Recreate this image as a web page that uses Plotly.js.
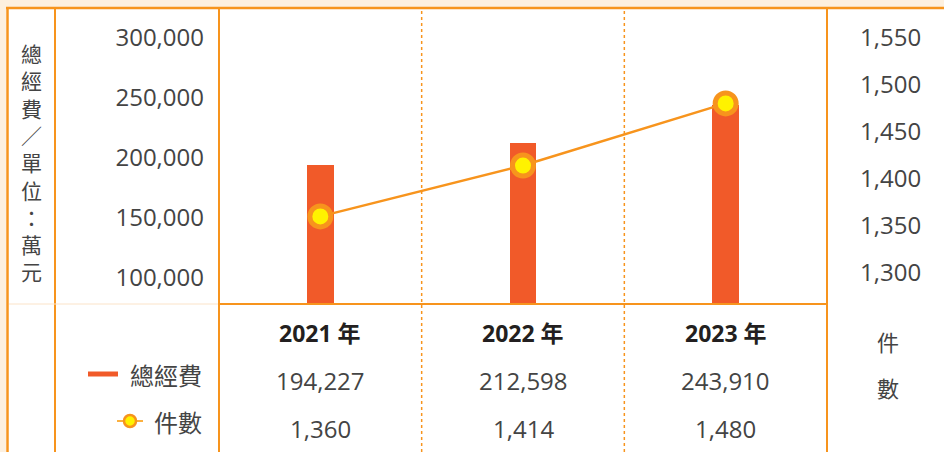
<!DOCTYPE html>
<html>
<head>
<meta charset="utf-8">
<script src="https://cdn.plot.ly/plotly-3.0.1.min.js"></script>
<style>
html,body{margin:0;padding:0;background:#fff;}
#chart{width:944px;height:452px;}
</style>
</head>
<body>
<div id="chart"></div>
<script>
// ---- data ----
const years = ['2021 年', '2022 年', '2023 年'];
const funding = [194227, 212598, 243910];   // 總經費 (萬元)
const cases = [1360, 1414, 1480];           // 件數
const seriesNames = ['總經費', '件數'];
const leftTitle = ['總', '經', '費', '／', '單', '位', '：', '萬', '元'];
const rightTitle = ['件', '數'];

// ---- layout helpers (pixel -> paper) ----
const W = 944, H = 452;
const L = 219, R = 827, T = 8, B = 304;
const PW = R - L, PH = B - T;
const px = v => (v - L) / PW;
const py = v => (B - v) / PH;

const ORANGE = '#f7941d';
const RED = '#f15a29';
const TXT = '#444444';
const FONT = '"Open Sans", "Noto Sans CJK TC", sans-serif';
const CJK = '"Noto Sans CJK TC", "Open Sans", sans-serif';

const xs = years.map((_, i) => i);
const fmt = n => n.toLocaleString('en-US');

const traces = [
  {
    type: 'bar', x: xs, y: funding, name: seriesNames[0],
    marker: {color: RED}, width: 0.13, yaxis: 'y', hoverinfo: 'y'
  },
  {
    type: 'scatter', mode: 'lines+markers', x: xs, y: cases, name: seriesNames[1],
    yaxis: 'y2',
    line: {color: ORANGE, width: 2.5},
    marker: {size: 21, color: '#fff200', line: {color: ORANGE, width: 5}},
    cliponaxis: false
  }
];

const shapes = [];
const line = (x0, y0, x1, y1, color, width, dash) => shapes.push({
  type: 'line', xref: 'paper', yref: 'paper',
  x0: px(x0), y0: py(y0), x1: px(x1), y1: py(y1),
  line: {color: color, width: width, dash: dash || 'solid'}, layer: 'above'
});
// cream bands
shapes.push({type: 'rect', xref: 'paper', yref: 'paper', x0: px(0), x1: px(W), y0: py(0), y1: py(7),
  fillcolor: '#fdf0df', line: {width: 0}, layer: 'above'});
shapes.push({type: 'rect', xref: 'paper', yref: 'paper', x0: px(0), x1: px(6), y0: py(0), y1: py(H),
  fillcolor: '#fdf0df', line: {width: 0}, layer: 'above'});
// grid of the table
line(6, 8, W, 8, ORANGE, 2.5);
line(7.5, 8, 7.5, H, ORANGE, 2.5);
line(55, 8, 55, H, ORANGE, 2);
line(219, 8, 219, H, ORANGE, 2);
line(827, 8, 827, H, ORANGE, 2);
line(219, 304, 827, 304, ORANGE, 2);
line(9, 304, 218, 304, '#fbe3c8', 1);
// dashed separators between categories
[0.5, 1.5].forEach(b => shapes.push({
  type: 'line', xref: 'x', yref: 'paper', x0: b, x1: b, y0: py(H), y1: py(8),
  line: {color: ORANGE, width: 1.5, dash: '3px,3px'}, layer: 'above'
}));
// legend symbols
line(88, 374, 118, 374, RED, 5);
line(117, 421, 143, 421, '#fbb040', 2);
shapes.push({type: 'circle', xref: 'paper', yref: 'paper',
  x0: px(124), x1: px(136), y0: py(427), y1: py(415),
  fillcolor: '#fff200', line: {color: ORANGE, width: 2.5}, layer: 'above'});

const ann = (o) => annotations.push(Object.assign({showarrow: false, xanchor: 'center', yanchor: 'middle'}, o));
const annotations = [];
// table rows
years.forEach((yr, i) => {
  ann({x: i, xref: 'x', y: py(333), yref: 'paper', text: '<b>' + yr + '</b>',
    font: {family: FONT, size: 23, color: '#231f20'}});
  ann({x: i, xref: 'x', y: py(380), yref: 'paper', text: fmt(funding[i]),
    font: {family: FONT, size: 24, color: TXT}});
  ann({x: i, xref: 'x', y: py(428), yref: 'paper', text: fmt(cases[i]),
    font: {family: FONT, size: 24, color: TXT}});
});
// legend texts
ann({x: px(204), y: py(374), xref: 'paper', yref: 'paper', xanchor: 'right',
  text: seriesNames[0], font: {family: CJK, size: 24, color: TXT}});
ann({x: px(204), y: py(421), xref: 'paper', yref: 'paper', xanchor: 'right',
  text: seriesNames[1], font: {family: CJK, size: 24, color: TXT}});
// vertical left title (one stacked text)
ann({x: px(31), y: py(162), xref: 'paper', yref: 'paper', text: leftTitle.join('<br>'),
  font: {family: CJK, size: 21, color: TXT}});
// right title
rightTitle.forEach((ch, i) => ann({
  x: px(888), y: py(341 + i * 46), xref: 'paper', yref: 'paper', text: ch,
  font: {family: CJK, size: 22, color: TXT}
}));

const layout = {
  width: W, height: H,
  margin: {l: L, r: W - R, t: T, b: H - B, pad: 0},
  paper_bgcolor: '#ffffff', plot_bgcolor: '#ffffff',
  showlegend: false,
  xaxis: {range: [-0.5, 2.5], showticklabels: false, showgrid: false, zeroline: false,
    showline: false, ticks: '', fixedrange: true},
  yaxis: {range: [78333, 325000], tickvals: [100000, 150000, 200000, 250000, 300000],
    tickformat: ',d', showgrid: false, zeroline: false, showline: false, ticks: '',
    ticklabelstandoff: 14, tickfont: {family: FONT, size: 24, color: TXT}},
  yaxis2: {range: [1267, 1581.3], overlaying: 'y', side: 'right', dtick: 50, tick0: 1300,
    tickformat: ',d', showgrid: false, zeroline: false, showline: false, ticks: '',
    ticklabelstandoff: 32, tickfont: {family: FONT, size: 24, color: TXT}},
  shapes: shapes,
  annotations: annotations,
  bargap: 0
};

Plotly.newPlot('chart', traces, layout, {displayModeBar: false, staticPlot: true});
</script>
</body>
</html>
